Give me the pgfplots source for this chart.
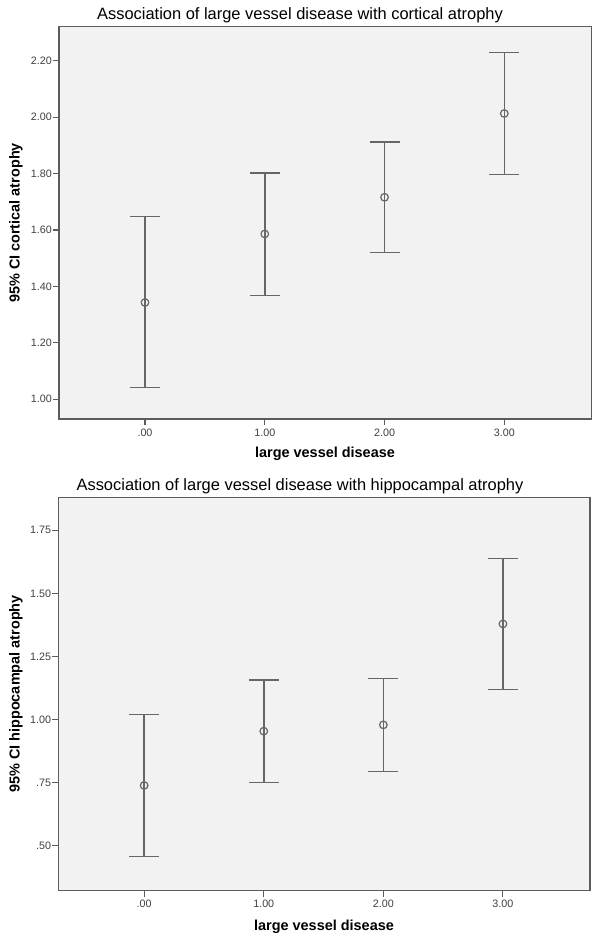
\documentclass[border=0pt]{standalone}
\usepackage{pgfplots}
\pgfplotsset{compat=1.18}
\usepackage{pgfplotstable}
\usepackage{fontspec}
\setmainfont{Liberation Sans}
\definecolor{bg}{HTML}{F2F2F2}
\definecolor{frm}{HTML}{5C5C5C}
\definecolor{bar}{HTML}{666666}
\definecolor{tl}{HTML}{404040}

\pgfplotstableread{
x y ep em
0 1.343 0.304 0.302
1 1.586 0.216 0.218
2 1.716 0.196 0.195
3 2.013 0.217 0.217
}\cortical

\pgfplotstableread{
x y ep em
0 0.739 0.282 0.281
1 0.954 0.203 0.203
2 0.979 0.184 0.185
3 1.379 0.259 0.259
}\hippo

\pgfplotsset{spss/.style={
  scale only axis,
  axis background/.style={fill=bg},
  axis line style={frm, line width=1.4bp},
  tick style={frm, line width=1.1bp},
  tick align=outside, tick pos=left,
  major tick length=6bp,
  ticklabel style={font=\fontsize{10.8}{12}\selectfont, text=tl},
  yticklabel style={inner sep=1bp},
  /pgf/number format/assume math mode=true,
  xtick={0,1,2,3}, xticklabels={.00,1.00,2.00,3.00},
  xmin=-0.718, xmax=3.728,
}}
\pgfplotsset{ebars/.style={
  bar, line width=1.5bp, only marks, mark=o, mark size=3.8bp,
  mark options={solid, draw=bar, line width=1.2bp},
  error bars/.cd, y dir=both, y explicit,
  error mark=|, error mark options={mark size=15bp, line width=1.5bp, bar},
  error bar style={line width=1.5bp, bar}
}}

\begin{document}
\begin{tikzpicture}
\useasboundingbox (0,0) rectangle (601bp,944bp);
% top panel
\begin{axis}[spss, at={(59bp,525bp)}, anchor=south west,
  width=532.5bp, height=392.5bp,
  ymin=0.93, ymax=2.3215,
  ytick={1,1.2,1.4,1.6,1.8,2.0,2.2},
  yticklabels={1.00,1.20,1.40,1.60,1.80,2.00,2.20}]
\addplot[ebars] table[x=x, y=y, y error plus=ep, y error minus=em] {\cortical};
\end{axis}
\node[anchor=base, font=\fontsize{16.5}{18}\selectfont] at (300bp,924.7bp) {Association of large vessel disease with cortical atrophy};
\node[anchor=base, font=\bfseries\fontsize{14.5}{16}\selectfont] at (325bp,486bp) {large vessel disease};
\node[rotate=90, anchor=center, font=\bfseries\fontsize{14.5}{16}\selectfont] at (16bp,721bp) {95\% CI cortical atrophy};
% bottom panel
\begin{axis}[spss, at={(58.3bp,53.3bp)}, anchor=south west,
  width=531.7bp, height=393bp,
  ymin=0.322, ymax=1.879,
  ytick={0.5,0.75,1,1.25,1.5,1.75},
  yticklabels={.50,.75,1.00,1.25,1.50,1.75}]
\addplot[ebars] table[x=x, y=y, y error plus=ep, y error minus=em] {\hippo};
\end{axis}
\node[anchor=base, font=\fontsize{16.5}{18}\selectfont] at (300bp,453bp) {Association of large vessel disease with hippocampal atrophy};
\node[anchor=base, font=\bfseries\fontsize{14.5}{16}\selectfont] at (324bp,14bp) {large vessel disease};
\node[rotate=90, anchor=center, font=\bfseries\fontsize{14.5}{16}\selectfont] at (16bp,250bp) {95\% CI hippocampal atrophy};
\end{tikzpicture}
\end{document}
